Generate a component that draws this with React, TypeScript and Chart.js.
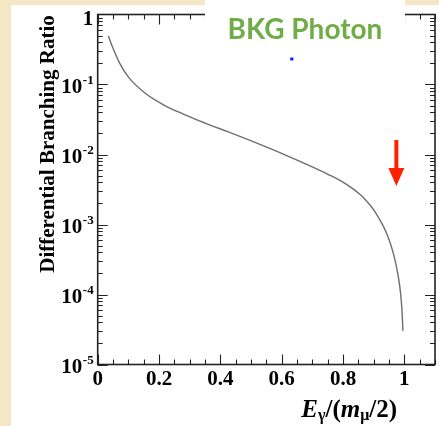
import React, { useEffect, useRef } from "react";
import { Chart, registerables } from "chart.js";

Chart.register(...registerables);

// ---- data ----
const energyFraction = [0.035, 0.047, 0.071, 0.101, 0.155, 0.21, 0.263, 0.318, 0.375, 0.43, 0.495, 0.559, 0.624, 0.689, 0.754, 0.787, 0.81, 0.835, 0.855, 0.873, 0.89, 0.906, 0.92, 0.933, 0.945, 0.955, 0.966, 0.976, 0.982, 0.987, 0.992, 0.9955];
const branchingRatio = [0.493, 0.354, 0.204, 0.1265, 0.075, 0.0526, 0.0405, 0.032, 0.0255, 0.0207, 0.016, 0.0123, 0.00933, 0.00697, 0.00513, 0.00434, 0.00378, 0.00318, 0.0027, 0.00226, 0.00185, 0.00148, 0.00117, 0.000916, 0.000695, 0.000525, 0.000359, 0.000229, 0.000162, 0.000111, 0.0000624, 0.0000302];

const markerX = [0.633];
const markerY = [0.231];

const arrowX = 0.974;
const arrowTop = 0.0161;
const arrowTip = 0.00355;

const xTickValues = [0, 0.2, 0.4, 0.6, 0.8, 1];
const xTickLabels = ["0", "0.2", "0.4", "0.6", "0.8", "1"];
const yTickValues = [1e-5, 1e-4, 1e-3, 1e-2, 1e-1, 1];
const yTickBase = ["10", "10", "10", "10", "10", "1"];
const yTickExponent = ["-5", "-4", "-3", "-2", "-1", ""];

const titleText = "BKG Photon";
const yAxisTitle = "Differential Branching Ratio";

const W = 439;
const H = 426;
const BEIGE = "#F5E7C5";
const SERIF = "'Liberation Serif', 'DejaVu Serif', serif";

const backgroundPlugin = {
  id: "bg",
  beforeDraw(chart: any) {
    const ctx = chart.ctx;
    ctx.save();
    ctx.fillStyle = BEIGE;
    ctx.fillRect(0, 0, W, H);
    ctx.fillStyle = "#ffffff";
    ctx.fillRect(11, 5, W - 11, H - 5);
    ctx.restore();
  },
};

const framePlugin = {
  id: "frame",
  afterDatasetsDraw(chart: any) {
    const { ctx, chartArea, scales } = chart;
    const { left, right, top, bottom } = chartArea;
    const x = scales.x;
    const y = scales.y;
    ctx.save();
    ctx.strokeStyle = "#222";
    ctx.lineWidth = 1.6;
    ctx.strokeRect(left, top, right - left, bottom - top);
    ctx.lineWidth = 1.1;
    const MAJOR = 10;
    const MINOR = 5;
    ctx.beginPath();
    for (let i = 0; i <= 22; i++) {
      const px = Math.round(x.getPixelForValue(i * 0.05)) + 0.5;
      const len = i % 4 === 0 ? MAJOR : MINOR;
      ctx.moveTo(px, bottom);
      ctx.lineTo(px, bottom - len);
      ctx.moveTo(px, top);
      ctx.lineTo(px, top + len);
    }
    for (let k = -5; k <= -1; k++) {
      for (let m = 1; m <= 9; m++) {
        const v = m * Math.pow(10, k);
        const py = Math.round(y.getPixelForValue(v)) + 0.5;
        const len = m === 1 ? MAJOR : MINOR;
        ctx.moveTo(left, py);
        ctx.lineTo(left + len, py);
        ctx.moveTo(right, py);
        ctx.lineTo(right - len, py);
      }
    }
    ctx.stroke();

    // y tick labels with real superscripts
    ctx.fillStyle = "#000";
    ctx.textBaseline = "alphabetic";
    ctx.textAlign = "left";
    const labelRight = left - 4.5;
    yTickValues.forEach((v, i) => {
      const py = y.getPixelForValue(v);
      const baseFont = `bold 21px ${SERIF}`;
      const expFont = `bold 13px ${SERIF}`;
      ctx.font = expFont;
      const ew = yTickExponent[i] ? ctx.measureText(yTickExponent[i]).width : 0;
      ctx.font = baseFont;
      const bw = ctx.measureText(yTickBase[i]).width;
      const x0 = labelRight - ew - bw;
      const dy = yTickExponent[i] ? 8.5 : 10.5;
      ctx.fillText(yTickBase[i], x0, py + dy);
      if (yTickExponent[i]) {
        ctx.font = expFont;
        ctx.fillText(yTickExponent[i], x0 + bw + 0.5, py - 0.5);
      }
    });
    ctx.restore();
  },
};

const overlayPlugin = {
  id: "overlay",
  afterDraw(chart: any) {
    const { ctx, scales } = chart;
    const x = scales.x;
    const y = scales.y;
    ctx.save();

    // red arrow
    const ax = x.getPixelForValue(arrowX);
    const aTop = y.getPixelForValue(arrowTop);
    const aTip = y.getPixelForValue(arrowTip);
    const headLen = 18;
    const headHalf = 8;
    ctx.fillStyle = "#FF2200";
    ctx.fillRect(ax - 2, aTop, 4, aTip - headLen - aTop + 1);
    ctx.beginPath();
    ctx.moveTo(ax - headHalf, aTip - headLen);
    ctx.lineTo(ax + headHalf, aTip - headLen);
    ctx.lineTo(ax, aTip);
    ctx.closePath();
    ctx.fill();

    // title box
    ctx.fillStyle = "#ffffff";
    ctx.fillRect(205, 0, 200, 46);
    ctx.fillStyle = "#70AD47";
    ctx.font = "bold 28px Lato, 'Open Sans', sans-serif";
    ctx.textAlign = "center";
    ctx.textBaseline = "alphabetic";
    ctx.fillText(titleText, 305, 39.3);

    // y axis title
    ctx.save();
    ctx.translate(54, 144);
    ctx.rotate(-Math.PI / 2);
    ctx.fillStyle = "#000";
    ctx.font = `bold 21px ${SERIF}`;
    ctx.textAlign = "center";
    ctx.fillText(yAxisTitle, 0, 0);
    ctx.restore();

    // x axis title: E_γ/(m_μ/2)
    const big = 25;
    const small = 16;
    const parts = [
      { t: "E", f: `italic bold ${big}px ${SERIF}`, dy: 0 },
      { t: "γ", f: `bold ${small}px ${SERIF}`, dy: 3 },
      { t: "/(", f: `bold ${big}px ${SERIF}`, dy: 0 },
      { t: "m", f: `italic bold ${big}px ${SERIF}`, dy: 0 },
      { t: "μ", f: `bold ${small}px ${SERIF}`, dy: 3 },
      { t: "/2)", f: `bold ${big}px ${SERIF}`, dy: 0 },
    ];
    ctx.textAlign = "left";
    ctx.fillStyle = "#000";
    let total = 0;
    for (const p of parts) {
      ctx.font = p.f;
      total += ctx.measureText(p.t).width;
    }
    let cx = 397 - total;
    const base = 417;
    for (const p of parts) {
      ctx.font = p.f;
      ctx.fillText(p.t, cx, base + p.dy);
      cx += ctx.measureText(p.t).width;
    }
    ctx.restore();
  },
};

export default function App() {
  const ref = useRef<HTMLCanvasElement | null>(null);

  useEffect(() => {
    if (!ref.current) return;
    const chart = new Chart(ref.current, {
      type: "line",
      data: {
        datasets: [
          {
            type: "line",
            data: energyFraction.map((v, i) => ({ x: v, y: branchingRatio[i] })),
            borderColor: "#6e6e6e",
            borderWidth: 1.4,
            pointRadius: 0,
            cubicInterpolationMode: "monotone",
            fill: false,
          } as any,
          {
            type: "scatter",
            data: markerX.map((v, i) => ({ x: v, y: markerY[i] })),
            pointStyle: "rect",
            pointRadius: 2.2,
            backgroundColor: "#0022ff",
            borderWidth: 0,
            showLine: false,
          } as any,
        ],
      },
      options: {
        responsive: false,
        animation: false,
        layout: { padding: { left: 0, top: 14.5, right: 2.3, bottom: 0 } },
        plugins: { legend: { display: false }, tooltip: { enabled: false } },
        scales: {
          x: {
            type: "linear",
            min: 0,
            max: 1.1,
            afterBuildTicks: (s: any) => {
              s.ticks = xTickValues.map((v) => ({ value: v }));
            },
            afterFit: (s: any) => {
              s.height = H - 364.5;
            },
            grid: { display: false, drawTicks: false },
            border: { display: false },
            ticks: {
              autoSkip: false,
              maxRotation: 0,
              padding: 2,
              color: "#000",
              font: { family: SERIF, weight: "bold", size: 21 },
              callback: (_v: any, i: number) => xTickLabels[i],
            },
          },
          y: {
            type: "logarithmic",
            min: 1e-5,
            max: 1,
            afterBuildTicks: (s: any) => {
              s.ticks = yTickValues.map((v) => ({ value: v }));
            },
            afterFit: (s: any) => {
              s.width = 97.7;
            },
            grid: { display: false, drawTicks: false },
            border: { display: false },
            ticks: { display: false },
          },
        },
      } as any,
      plugins: [backgroundPlugin, framePlugin, overlayPlugin],
    });
    return () => chart.destroy();
  }, []);

  return (
    <canvas
      ref={ref}
      width={W}
      height={H}
      style={{ position: "absolute", left: 0, top: 0, width: W, height: H }}
    />
  );
}
